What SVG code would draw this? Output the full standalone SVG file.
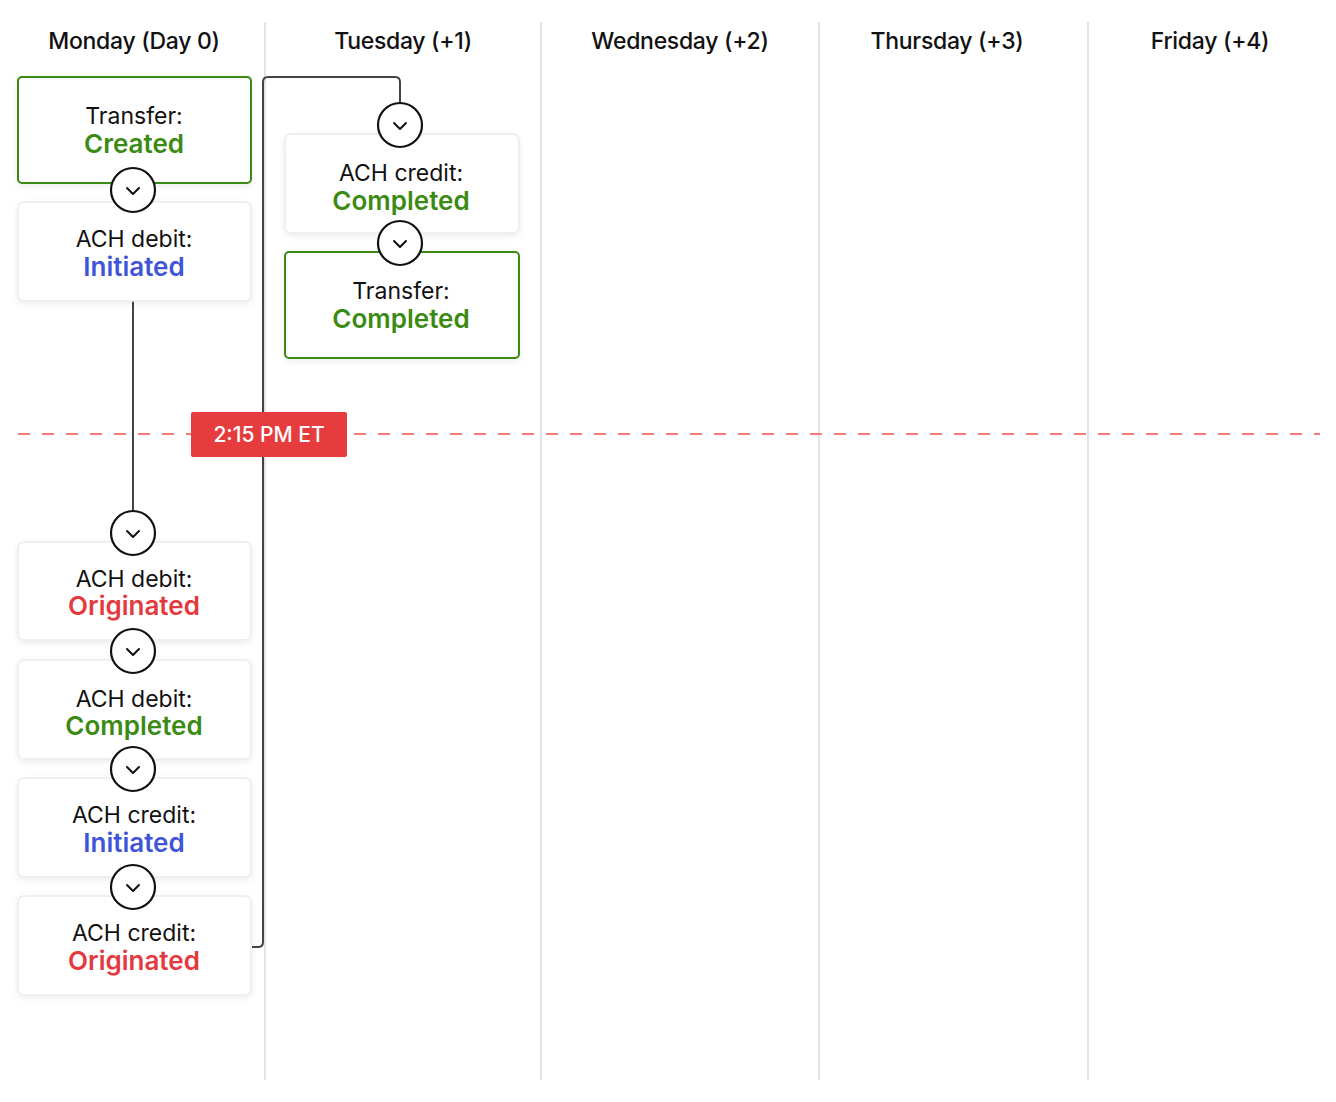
<svg xmlns="http://www.w3.org/2000/svg" width="1336" height="1102" viewBox="0 0 1336 1102">
<defs>
<filter id="sh" x="-10%" y="-10%" width="120%" height="130%"><feDropShadow dx="0" dy="2" stdDeviation="3" flood-color="#000" flood-opacity="0.08"/></filter>
<g id="chev"><circle r="22" fill="#fff" stroke="#111" stroke-width="2.2"/><path d="M-6,-2 L0,4 L6,-2" fill="none" stroke="#111" stroke-width="2" stroke-linecap="round" stroke-linejoin="round"/></g>
</defs>
<style>
text{font-family:Inter,"Noto Sans",sans-serif;text-anchor:middle}
.h{font-size:23px;font-weight:500;fill:#111;letter-spacing:-0.3px}
.l1{font-size:23px;fill:#111}
.l2{font-size:26px;font-weight:600}
.card{fill:#fff;stroke:#ececec;stroke-width:1.5;filter:url(#sh)}
.gcard{fill:#fff;stroke:#3b8a13;stroke-width:2;filter:url(#sh)}
.g{fill:#3b8a13}.b{fill:#3f55d9}.r{fill:#e5393e}
.div{stroke:#e2e2e2;stroke-width:2}
.con{fill:none;stroke:#444;stroke-width:2}
</style>
<rect width="1336" height="1102" fill="#fff"/>
<g id="columns">
<line class="div" x1="265" y1="22" x2="265" y2="1080"/>
<line class="div" x1="541" y1="22" x2="541" y2="1080"/>
<line class="div" x1="819" y1="22" x2="819" y2="1080"/>
<line class="div" x1="1088" y1="22" x2="1088" y2="1080"/>
<text class="h" x="134" y="49">Monday (Day 0)</text>
<text class="h" x="403" y="49">Tuesday (+1)</text>
<text class="h" x="680" y="49">Wednesday (+2)</text>
<text class="h" x="947" y="49">Thursday (+3)</text>
<text class="h" x="1210" y="49">Friday (+4)</text>
</g>
<g id="cutoff">
<line x1="18" y1="434" x2="1320" y2="434" stroke="#f07a7a" stroke-width="2" stroke-dasharray="12,12"/>
</g>
<g id="connectors">
<line class="con" x1="133" y1="301" x2="133" y2="512"/>
<path class="con" d="M252,947 H258 Q263,947 263,942 V82 Q263,77 268,77 H395 Q400,77 400,82 V104"/>
</g>
<g id="label"><rect x="191" y="412" width="156" height="45" rx="2" fill="#e63c3e"/><text x="269" y="442" style="font-size:21px;fill:#fff;font-weight:500">2:15 PM ET</text></g>
<g id="n1"><rect class="gcard" x="18" y="77" width="233" height="106" rx="4"/><text class="l1" x="134" y="124">Transfer:</text><text class="l2 g" x="134" y="153">Created</text></g>
<g id="n2"><rect class="card" x="18" y="202" width="233" height="99" rx="6"/><text class="l1" x="134" y="247">ACH debit:</text><text class="l2 b" x="134" y="276">Initiated</text></g>
<g id="n3"><rect class="card" x="18" y="542" width="233" height="98" rx="6"/><text class="l1" x="134" y="587">ACH debit:</text><text class="l2 r" x="134" y="615">Originated</text></g>
<g id="n4"><rect class="card" x="18" y="660" width="233" height="99" rx="6"/><text class="l1" x="134" y="707">ACH debit:</text><text class="l2 g" x="134" y="735">Completed</text></g>
<g id="n5"><rect class="card" x="18" y="778" width="233" height="99" rx="6"/><text class="l1" x="134" y="823">ACH credit:</text><text class="l2 b" x="134" y="852">Initiated</text></g>
<g id="n6"><rect class="card" x="18" y="896" width="233" height="99" rx="6"/><text class="l1" x="134" y="941">ACH credit:</text><text class="l2 r" x="134" y="970">Originated</text></g>
<g id="n7"><rect class="card" x="285" y="134" width="234" height="99" rx="6"/><text class="l1" x="401" y="181">ACH credit:</text><text class="l2 g" x="401" y="210">Completed</text></g>
<g id="n8"><rect class="gcard" x="285" y="252" width="234" height="106" rx="4"/><text class="l1" x="401" y="299">Transfer:</text><text class="l2 g" x="401" y="328">Completed</text></g>
<g id="chevrons">
<use href="#chev" x="133" y="190"/>
<use href="#chev" x="133" y="533"/>
<use href="#chev" x="133" y="651"/>
<use href="#chev" x="133" y="769"/>
<use href="#chev" x="133" y="887"/>
<use href="#chev" x="400" y="125"/>
<use href="#chev" x="400" y="243"/>
</g>
</svg>
